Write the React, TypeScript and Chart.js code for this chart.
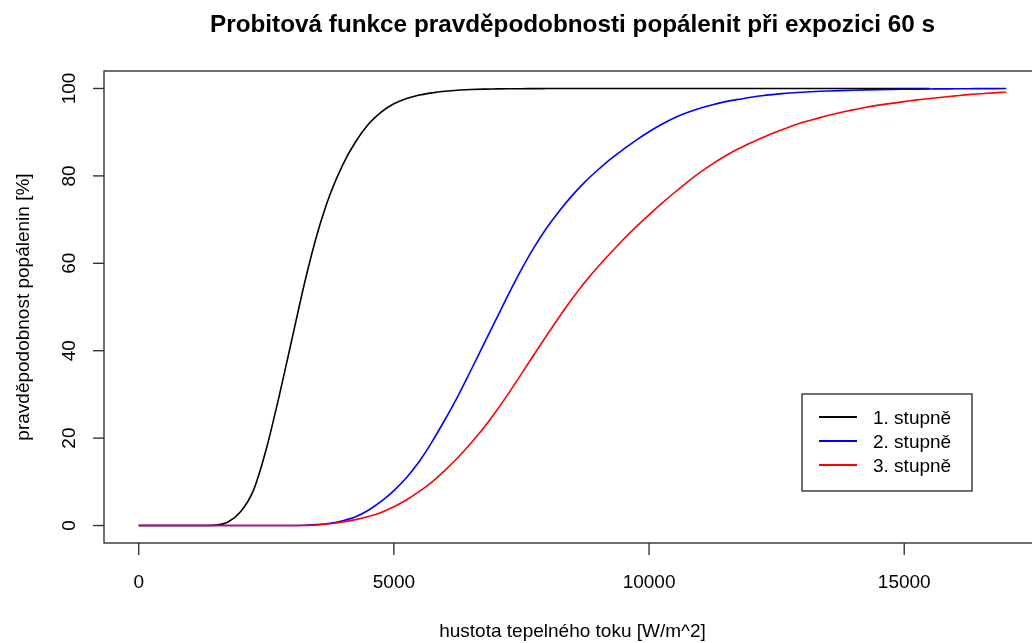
import React, { useEffect, useRef } from "react";
import { Chart, registerables } from "chart.js";

Chart.register(...registerables);

const TITLE = "Probitová funkce pravděpodobnosti popálenit při expozici 60 s";
const X_TITLE = "hustota tepelného toku [W/m^2]";
const Y_TITLE = "pravděpodobnost popálenin [%]";

const seriesLabels = ["1. stupně", "2. stupně", "3. stupně"];
const seriesColors = ["#000000", "#0000ff", "#ff0000"];

const xTicks = [0, 5000, 10000, 15000];
const yTicks = [0, 20, 40, 60, 80, 100];

// heat flux density [W/m^2]
const flux = [
  0, 250, 500, 750, 1000, 1250, 1500, 1750, 2000, 2250, 2500, 2750, 3000, 3250, 3500, 3750,
  4000, 4250, 4500, 4750, 5000, 5250, 5500, 5750, 6000, 6250, 6500, 6750, 7000, 7250, 7500,
  7750, 8000, 8250, 8500, 8750, 9000, 9250, 9500, 9750, 10000, 10250, 10500, 10750, 11000,
  11250, 11500, 11750, 12000, 12250, 12500, 12750, 13000, 13250, 13500, 13750, 14000, 14250,
  14500, 14750, 15000, 15250, 15500, 15750, 16000, 16250, 16500, 16750, 17000,
];

// probability of burns [%]
const stupen1: (number | null)[] = [
  0, 0, 0, 0, 0, 0, 0.1, 0.8, 3.2, 8.1, 17.5, 29.5, 42.5, 55.5, 66.8, 75.8,
  82.6, 87.8, 91.8, 94.6, 96.5, 97.7, 98.5, 99, 99.35, 99.6, 99.75, 99.85, 99.9, 99.93, 99.95,
  99.97, 99.98, 100, 100, 100, 100, 100, 100, 100, 100, 100, 100, 100, 100,
  100, 100, 100, 100, 100, 100, 100, 100, 100, 100, 100, 100, 100,
  100, 100, 100, 100, 100, null, null, null, null, null, null,
];

const stupen2: (number | null)[] = [
  0, 0, 0, 0, 0, 0, 0, 0, 0, 0, 0, 0, 0, 0.05, 0.2, 0.5,
  1.1, 2.0, 3.5, 5.5, 8.0, 11.0, 14.7, 19.2, 24.2, 29.5, 35.3, 41.2, 47.1, 53.0, 58.6,
  63.7, 68.2, 72.1, 75.6, 78.7, 81.4, 83.9, 86.1, 88.2, 90.1, 91.8, 93.3, 94.5, 95.5,
  96.3, 97.0, 97.5, 98.0, 98.4, 98.7, 98.95, 99.15, 99.3, 99.42, 99.52, 99.6, 99.67,
  99.73, 99.78, 99.82, 99.86, 99.89, 99.91, 99.93, 99.95, 99.96, 99.97, 99.98,
];

const stupen3: (number | null)[] = [
  0, 0, 0, 0, 0, 0, 0, 0, 0, 0, 0, 0, 0, 0, 0.15, 0.4,
  0.8, 1.35, 2.05, 3.0, 4.3, 5.9, 7.8, 10.0, 12.6, 15.5, 18.7, 22.2, 26.1, 30.3, 34.7,
  39.2, 43.6, 47.9, 52.0, 55.8, 59.2, 62.4, 65.5, 68.4, 71.1, 73.7, 76.2, 78.6, 80.8,
  82.8, 84.6, 86.2, 87.6, 88.9, 90.1, 91.2, 92.2, 93.0, 93.8, 94.5, 95.1, 95.7,
  96.2, 96.6, 97.0, 97.4, 97.7, 98.0, 98.3, 98.6, 98.8, 99.0, 99.2,
];

const seriesValues = [stupen1, stupen2, stupen3];

const CANVAS_W = 1060;
const CANVAS_H = 643;
const FONT = '"Liberation Sans", Arial, "DejaVu Sans", sans-serif';

const toPoints = (vals: (number | null)[]) =>
  flux
    .map((x, i) => ({ x, y: vals[i] }))
    .filter((p) => p.y !== null && p.y !== undefined);

const framePlugin = {
  id: "rFrame",
  afterDraw(chart: any) {
    const { ctx, chartArea: a, scales } = chart;
    const xs = scales.x;
    const ys = scales.y;
    ctx.save();
    ctx.strokeStyle = "#333";
    ctx.lineWidth = 1.4;
    ctx.strokeRect(a.left, a.top, a.right - a.left, a.bottom - a.top);

    ctx.fillStyle = "#000";
    ctx.font = `19px ${FONT}`;
    ctx.textAlign = "center";
    ctx.textBaseline = "alphabetic";

    xTicks.forEach((v) => {
      const px = xs.getPixelForValue(v);
      ctx.beginPath();
      ctx.moveTo(px, a.bottom);
      ctx.lineTo(px, a.bottom + 12);
      ctx.stroke();
      ctx.fillText(String(v), px, 588);
    });

    yTicks.forEach((v) => {
      const py = ys.getPixelForValue(v);
      ctx.beginPath();
      ctx.moveTo(a.left - 11, py);
      ctx.lineTo(a.left, py);
      ctx.stroke();
      ctx.save();
      ctx.translate(75, py);
      ctx.rotate(-Math.PI / 2);
      ctx.fillText(String(v), 0, 0);
      ctx.restore();
    });

    const cx = (a.left + a.right) / 2;
    const cy = (a.top + a.bottom) / 2;

    ctx.fillText(X_TITLE, cx, 637);

    ctx.save();
    ctx.translate(29, cy);
    ctx.rotate(-Math.PI / 2);
    ctx.fillText(Y_TITLE, 0, 0);
    ctx.restore();

    ctx.font = `bold 24.3px ${FONT}`;
    ctx.fillText(TITLE, cx, 32);

    // legend
    ctx.strokeStyle = "#333";
    ctx.lineWidth = 1.4;
    ctx.strokeRect(802, 394, 170, 97);
    ctx.font = `19px ${FONT}`;
    ctx.textAlign = "left";
    seriesLabels.forEach((lab, i) => {
      const y = 417 + i * 24;
      ctx.strokeStyle = seriesColors[i];
      ctx.lineWidth = 2;
      ctx.beginPath();
      ctx.moveTo(819, y);
      ctx.lineTo(857, y);
      ctx.stroke();
      ctx.fillStyle = "#000";
      ctx.fillText(lab, 873, y + 7);
    });
    ctx.restore();
  },
};

export default function App() {
  const ref = useRef<HTMLCanvasElement | null>(null);

  useEffect(() => {
    if (!ref.current) return;
    const chart = new Chart(ref.current, {
      type: "line",
      data: {
        datasets: seriesLabels.map((label, i) => ({
          label,
          data: toPoints(seriesValues[i]),
          borderColor: seriesColors[i],
          backgroundColor: seriesColors[i],
          borderWidth: 1.6,
          pointRadius: 0,
          fill: false,
          cubicInterpolationMode: "monotone" as const,
          order: 3 - i,
        })),
      },
      options: {
        responsive: false,
        animation: false,
        devicePixelRatio: 1,
        layout: { padding: { top: 71, right: CANVAS_W - 1041, left: 0, bottom: 0 } },
        plugins: {
          legend: { display: false },
          title: { display: false },
          tooltip: { enabled: false },
        },
        scales: {
          x: {
            type: "linear",
            min: -680,
            max: 17680,
            grid: { display: false },
            border: { display: false },
            ticks: { display: false },
            afterFit: (s: any) => {
              s.height = CANVAS_H - 543;
            },
          },
          y: {
            type: "linear",
            min: -4,
            max: 104,
            grid: { display: false },
            border: { display: false },
            ticks: { display: false },
            afterFit: (s: any) => {
              s.width = 104;
            },
          },
        },
      },
      plugins: [framePlugin],
    });
    return () => chart.destroy();
  }, []);

  return (
    <div
      style={{
        position: "fixed",
        left: 0,
        top: 0,
        width: 1032,
        height: 643,
        overflow: "hidden",
        background: "#fff",
      }}
    >
      <canvas ref={ref} width={CANVAS_W} height={CANVAS_H} style={{ display: "block" }} />
    </div>
  );
}
